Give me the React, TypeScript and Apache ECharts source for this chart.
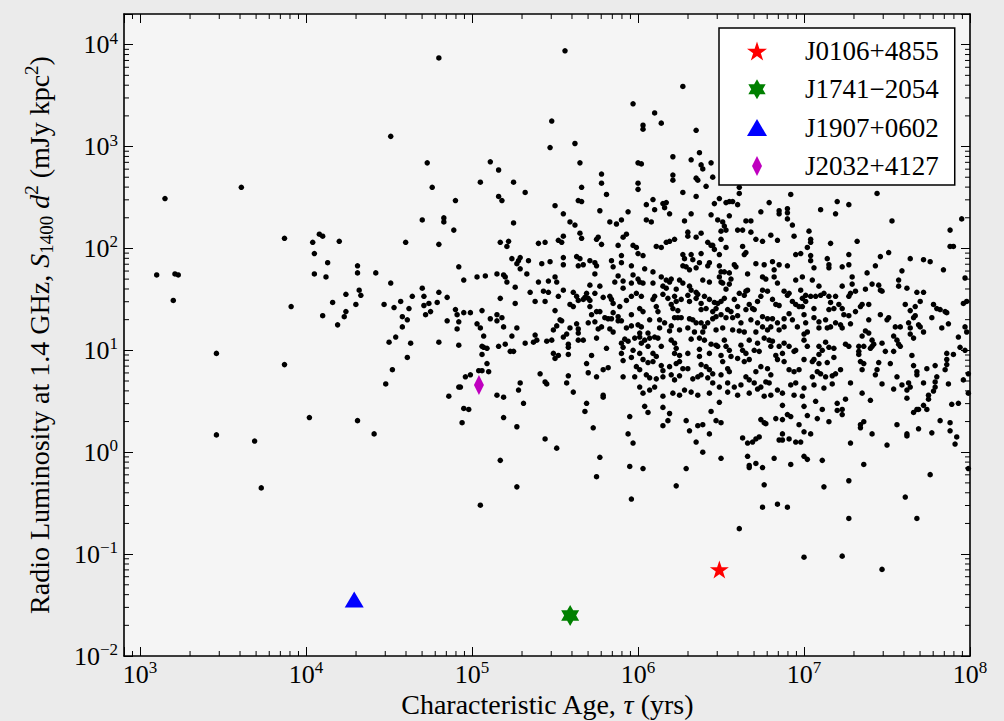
import React, { useEffect, useRef } from 'react';
import * as echarts from 'echarts';

const FONT = '"Liberation Serif", "Times New Roman", serif';

// Axis ranges
const X_MIN = 800;
const X_MAX = 1e8;
const Y_MIN = 0.01;
const Y_MAX = 20000;

// Decades and multipliers for minor ticks (axis furniture)
const X_MINOR_DECADES = [100, 1e3, 1e4, 1e5, 1e6, 1e7];
const Y_MINOR_DECADES = [0.01, 0.1, 1, 10, 100, 1000];
const MINOR_MULTS = [2, 3, 4, 5, 6, 7, 8, 9];

// Pulsar population: [log10 age (yr), log10 L1400 (mJy kpc^2)]
const popYoung: number[][] = [
  [4.80,3.87],[4.51,3.10],[4.73,2.84],[4.76,2.60],[4.90,2.47],[3.61,2.60],[3.15,2.49],[4.70,2.28],[4.83,2.30],[4.83,2.26],
  [4.89,2.18],[3.87,2.10],[4.04,2.06],[4.08,2.14],[4.10,2.12],[4.20,2.07],[4.60,2.06],[4.80,2.04],[4.05,1.95],[4.13,1.86],
  [4.92,1.82],[3.10,1.74],[3.21,1.75],[3.23,1.74],[4.05,1.75],[4.12,1.72],[4.31,1.83],[4.31,1.76],[4.42,1.76],[4.51,1.66],
  [4.32,1.59],[4.33,1.54],[4.24,1.55],[4.70,1.61],[4.71,1.53],[4.80,1.57],[4.85,1.52],[4.64,1.53],[3.20,1.49],[3.91,1.43],
  [4.16,1.47],[4.30,1.45],[4.47,1.45],[4.53,1.42],[4.57,1.48],[4.62,1.41],[4.71,1.44],[4.74,1.46],[4.79,1.47],[4.90,1.40],
  [4.10,1.34],[4.24,1.38],[4.23,1.33],[4.19,1.25],[4.58,1.33],[4.61,1.30],[4.72,1.35],[4.75,1.38],[4.85,1.29],[4.91,1.35],
  [4.92,1.28],[4.91,1.21],[4.58,1.23],[4.54,1.13],
  [3.46,0.97],[3.87,0.86],[4.50,1.08],[4.63,1.07],[4.80,1.08],[4.92,1.05],[4.61,0.93],[4.52,0.81],[4.48,0.67],[4.86,0.55],
  [4.92,0.64],[3.46,0.17],[3.69,0.11],[4.02,0.34],[4.31,0.31],[4.41,0.18],[3.73,-0.35],
];

const popUpperMid: number[][] = [
  [5.56,3.94],[5.97,3.42],[5.48,3.25],[5.47,2.99],[5.62,3.03],[5.65,2.84],[5.11,2.85],[5.16,2.77],[5.05,2.65],[5.25,2.65],
  [5.32,2.55],[5.16,2.51],[5.18,2.47],[5.78,2.73],[5.78,2.64],[5.66,2.60],[5.81,2.53],[5.64,2.47],[5.66,2.46],[5.50,2.42],
  [5.55,2.34],[5.77,2.37],[5.94,2.36],[5.25,2.25],[5.59,2.26],[5.62,2.23],[5.83,2.26],[5.87,2.24],[5.90,2.28],[5.65,2.15],
  [5.66,2.10],[5.55,2.12],[5.52,2.08],[5.54,2.06],[5.76,2.11],[5.75,2.09],[5.78,2.04],[5.91,2.11],[5.93,2.14],[5.88,2.03],
  [5.97,2.03],[5.17,2.06],[5.22,2.07],[5.21,2.02],[5.40,2.05],[5.44,2.06],
  [6.27,3.59],[6.10,3.33],[6.14,3.23],[6.03,3.21],[6.03,3.17],[6.35,3.16],[6.21,2.90],[6.32,2.87],[6.37,2.94],[6.38,2.82],
  [6.39,2.78],[6.44,2.84],[6.00,2.84],[6.02,2.83],[6.21,2.72],[6.21,2.67],[6.35,2.69],[6.36,2.67],[6.45,2.70],[6.00,2.64],
  [6.00,2.58],[6.27,2.55],[6.41,2.61],[6.35,2.51],[6.61,2.60],[6.61,2.54],[6.92,2.53],[7.44,2.54],[6.05,2.43],[6.09,2.48],
  [6.10,2.38],[6.15,2.44],[6.17,2.45],[6.16,2.40],[6.19,2.34],[6.32,2.34],[6.49,2.49],[6.46,2.44],[6.53,2.45],[6.55,2.46],
  [6.57,2.46],[6.60,2.43],[6.44,2.33],[6.48,2.28],[6.51,2.26],[6.55,2.32],[6.52,2.22],[6.53,2.18],[6.65,2.27],[6.68,2.27],
  [6.60,2.18],[6.63,2.18],[6.74,2.36],[6.79,2.45],[6.85,2.37],[6.85,2.34],[6.90,2.39],[6.90,2.35],[6.90,2.29],[6.93,2.23],
  [7.10,2.38],[7.19,2.34],[7.20,2.46],[7.27,2.43],[7.53,2.27],[7.95,2.29],[7.88,2.18],[7.88,2.02],[7.90,2.02],[6.05,2.28],
  [6.08,2.26],[6.28,2.27],[6.30,2.16],[6.35,2.11],[6.38,2.15],[6.42,2.06],[6.44,2.03],[6.50,2.17],[6.50,2.09],[6.68,2.16],
  [6.71,2.09],[6.75,2.07],[6.80,2.13],[6.84,2.08],[6.94,2.12],[7.03,2.17],[7.04,2.09],[7.04,2.06],[7.16,2.05],[7.32,2.07],
  [7.02,2.01],[6.17,2.06],[6.19,2.07],[6.22,2.09],[6.11,2.02],[6.14,2.01],[5.99,2.01],[6.30,2.12],[6.45,2.03],[6.53,2.01],
  [6.63,2.02],
];

const popMidAge: number[][] = [
  [4.95,1.69],[5.03,1.72],[5.08,1.73],[5.15,1.75],[5.19,1.74],[5.20,1.72],[5.21,1.67],[5.24,1.90],[5.27,1.85],[5.28,1.88],
  [5.29,1.91],[5.29,1.80],[5.34,1.88],[5.33,1.75],[5.40,1.67],[5.42,1.85],[5.46,1.68],[5.47,1.87],[5.50,1.72],[5.51,1.67],
  [5.55,1.91],[5.55,1.84],[5.63,1.92],[5.65,1.90],[5.67,1.84],[5.64,1.83],[5.71,1.88],[5.74,1.86],[5.75,1.83],[5.74,1.75],
  [5.71,1.64],[5.77,1.63],[5.84,1.88],[5.85,1.82],[5.90,1.86],[5.90,1.93],[5.96,1.83],[5.88,1.73],[5.86,1.67],[5.91,1.68],
  [5.91,1.61],[5.96,1.53],[5.26,1.62],[5.35,1.57],[5.43,1.58],[5.46,1.57],[5.55,1.59],[5.61,1.57],[5.63,1.53],[5.69,1.56],
  [5.74,1.56],[5.17,1.51],[5.26,1.46],[5.38,1.48],[5.44,1.48],[5.52,1.53],[5.59,1.45],[5.61,1.43],[5.64,1.49],[5.67,1.50],
  [5.68,1.52],[5.70,1.51],[5.71,1.49],[5.71,1.43],[5.79,1.52],[5.83,1.53],[5.84,1.50],[5.85,1.46],[5.89,1.43],[5.93,1.49],
  [5.72,1.35],[5.75,1.38],[5.77,1.38],[5.85,1.37],[5.80,1.32],[5.82,1.31],[5.84,1.31],[5.88,1.33],[5.88,1.29],[5.90,1.29],
  [5.96,1.35],[4.95,1.37],[4.99,1.37],[5.06,1.39],[5.11,1.31],[5.15,1.35],[5.15,1.29],[5.18,1.32],[5.03,1.26],[5.05,1.22],
  [5.19,1.23],[5.27,1.22],[5.50,1.39],[5.53,1.30],[5.54,1.29],[5.51,1.24],[5.49,1.20],[5.59,1.22],[5.63,1.26],[5.64,1.21],
  [5.64,1.17],[5.70,1.27],[5.74,1.28],[5.76,1.21],[5.78,1.23],[5.83,1.21],[5.85,1.18],[5.93,1.22],[5.96,1.24],[5.07,1.14],
  [5.06,1.04],[5.07,1.03],[5.09,1.02],[5.16,1.04],[5.20,1.06],[5.23,0.99],[5.25,0.99],[5.24,1.14],[5.32,1.07],[5.37,1.08],
  [5.38,1.15],[5.39,1.10],[5.45,1.09],[5.48,1.10],[5.55,1.13],[5.57,1.16],[5.58,1.06],[5.58,1.03],[5.64,1.10],[5.67,1.10],
  [5.75,1.12],[5.81,1.02],[5.90,1.07],[5.91,1.03],[5.92,1.11],[5.94,1.09],[5.96,0.93],[5.06,0.96],[5.49,0.97],[5.52,0.95],
  [5.50,0.92],[5.58,0.96],[5.72,0.95],[5.79,0.81],[5.82,0.83],[5.90,0.97],[5.91,0.90],[5.69,0.87],[5.70,0.78],[5.75,0.74],
  [5.91,0.74],[5.09,0.87],[5.06,0.80],[5.04,0.80],[5.10,0.79],[4.99,0.76],[4.96,0.74],[4.93,0.64],[5.41,0.77],[5.44,0.69],
  [5.45,0.67],[5.29,0.68],[5.28,0.61],[5.58,0.75],[5.57,0.68],[5.61,0.59],[5.79,0.56],[5.79,0.54],[5.15,0.56],[5.19,0.54],
  [4.95,0.43],[4.98,0.42],[4.94,0.29],[5.19,0.34],[5.31,0.48],[5.27,0.25],[5.44,0.13],[5.51,0.04],[5.17,-0.08],[5.27,-0.34],
  [5.05,-0.52],[5.69,0.48],[5.68,0.40],[5.73,0.24],[5.77,-0.05],[5.75,-0.24],[5.95,0.35],[5.94,0.18],[5.97,0.09],[5.95,-0.14],
  [5.96,-0.46],
];

const popCore: number[][] = [
  [6.00,1.95],[6.03,1.93],[6.46,1.99],[6.49,1.94],[6.65,1.96],[6.64,1.94],[6.95,1.94],
  [6.27,1.94],[6.28,1.90],[6.32,1.94],[6.33,1.89],[6.38,1.95],[6.43,1.86],[6.27,1.83],[6.29,1.82],[6.31,1.79],[6.35,1.81],
  [6.37,1.86],[6.42,1.83],[6.49,1.83],[6.50,1.77],[6.52,1.77],[6.55,1.76],[6.58,1.84],[6.59,1.82],[6.66,1.75],[6.71,1.85],
  [6.76,1.84],[6.81,1.87],[6.82,1.79],[6.85,1.84],[6.90,1.83],[6.04,1.80],[6.09,1.77],[5.97,1.74],
  [5.96,1.66],[6.00,1.70],[6.01,1.67],[6.03,1.66],[6.09,1.66],[6.14,1.72],[6.17,1.69],[6.19,1.67],[6.15,1.63],[6.17,1.61],
  [6.20,1.70],[6.23,1.60],[6.25,1.69],[6.27,1.66],[6.31,1.63],[6.32,1.59],[6.35,1.57],[6.36,1.55],[6.39,1.69],[6.43,1.67],
  [6.49,1.72],[6.50,1.67],[6.51,1.66],[6.53,1.60],[6.55,1.65],[6.56,1.70],[6.61,1.56],[6.65,1.58],[6.66,1.59],[6.75,1.72],
  [6.77,1.70],[6.75,1.59],[6.82,1.72],[6.84,1.66],[6.88,1.58],[6.91,1.56],[6.95,1.69],[6.99,1.72],[6.98,1.59],
  [5.99,1.56],[6.02,1.53],[6.10,1.53],[6.15,1.55],[6.09,1.50],[6.18,1.51],[6.20,1.45],[6.22,1.53],[6.23,1.48],[6.26,1.50],
  [6.30,1.54],[6.31,1.48],[6.35,1.51],[6.38,1.46],[6.40,1.53],[6.43,1.50],[6.46,1.47],[6.48,1.46],[6.50,1.48],[6.52,1.51],
  [6.58,1.50],[6.60,1.43],[6.64,1.54],[6.67,1.45],[6.69,1.41],[6.70,1.40],[6.72,1.48],[6.74,1.53],[6.78,1.58],[6.81,1.50],
  [6.83,1.45],[6.85,1.44],[6.90,1.54],[6.93,1.48],[6.95,1.45],[6.97,1.43],[6.01,1.41],[6.03,1.38],[6.11,1.43],[6.12,1.38],
  [6.21,1.41],[6.24,1.39],[6.38,1.40],[6.41,1.41],[6.45,1.38],[6.47,1.41],[6.54,1.40],[6.56,1.38],[6.65,1.40],[6.75,1.33],
  [6.78,1.31],[6.81,1.31],[6.88,1.31],[6.91,1.36],
  [6.07,1.30],[6.13,1.30],[6.16,1.27],[6.20,1.24],[6.22,1.32],[6.24,1.32],[6.26,1.32],[6.31,1.31],[6.33,1.30],[6.35,1.27],
  [6.38,1.27],[6.40,1.23],[6.42,1.27],[6.45,1.31],[6.47,1.33],[6.50,1.35],[6.53,1.32],[6.57,1.32],[6.60,1.34],[6.62,1.27],
  [6.64,1.18],[6.68,1.30],[6.72,1.27],[6.75,1.23],[6.78,1.20],[6.80,1.23],[6.84,1.27],[6.88,1.23],[6.93,1.30],[6.96,1.23],
  [6.00,1.25],[6.02,1.23],[6.01,1.17],[6.06,1.17],[6.13,1.22],[6.19,1.19],[6.25,1.20],[6.30,1.22],[6.34,1.18],[6.39,1.18],
  [6.47,1.20],[6.51,1.22],[6.57,1.20],[6.61,1.19],[6.71,1.18],[6.85,1.20],
  [5.98,1.12],[6.01,1.13],[6.04,1.10],[6.07,1.12],[6.10,1.13],[6.12,1.12],[6.02,1.07],[6.06,1.04],[6.14,1.04],[6.20,1.10],
  [6.22,1.07],[6.23,1.02],[6.32,1.11],[6.37,1.12],[6.40,1.10],[6.44,1.06],[6.47,1.05],[6.52,1.10],[6.53,1.04],[6.55,1.00],
  [6.62,1.05],[6.63,1.00],[6.67,1.10],[6.72,1.07],[6.76,1.12],[6.79,1.10],[6.80,1.04],[6.81,1.09],[6.85,1.04],[6.88,1.07],
  [6.91,1.04],[6.95,1.00],[7.00,1.10],[5.97,1.00],[6.01,0.97],[6.09,0.97],[6.22,0.97],[6.25,0.95],[6.30,0.97],[6.37,1.01],
  [6.43,0.97],[6.48,1.04],[6.50,0.95],[6.56,0.94],[6.65,0.97],[6.70,1.00],[6.73,0.99],[6.83,0.95],[6.87,0.97],[6.94,0.99],
  [6.03,0.91],[6.06,0.88],[6.09,0.89],[6.11,0.94],[6.14,0.85],[6.19,0.84],[6.23,0.87],[6.25,0.89],[6.27,0.82],[6.30,0.82],
  [6.37,0.94],[6.38,0.86],[6.41,0.84],[6.43,0.81],[6.45,0.77],[6.51,0.89],[6.54,0.82],[6.55,0.79],[6.60,0.92],[6.64,0.89],
  [6.67,0.91],[6.71,0.79],[6.74,0.84],[6.78,0.82],[6.80,0.76],[6.84,0.91],[6.88,0.89],[6.91,0.81],[6.94,0.79],[6.97,0.81],
  [7.00,0.91],[5.99,0.84],[6.01,0.81],[6.15,0.80],
  [5.98,0.74],[6.05,0.76],[6.07,0.73],[6.11,0.72],[6.15,0.74],[6.20,0.76],[6.22,0.71],[6.25,0.75],[6.33,0.72],[6.36,0.74],
  [6.38,0.76],[6.42,0.73],[6.45,0.68],[6.50,0.76],[6.54,0.68],[6.58,0.64],[6.62,0.66],[6.65,0.74],[6.67,0.71],[6.70,0.68],
  [6.74,0.64],[6.72,0.62],[6.77,0.69],[6.79,0.68],[6.80,0.56],[6.84,0.61],[6.92,0.66],[6.95,0.68],[6.01,0.64],[6.03,0.58],
  [6.07,0.61],[6.10,0.64],[6.15,0.55],[6.21,0.58],[6.25,0.56],[6.28,0.61],[6.32,0.59],[6.36,0.56],[6.43,0.58],[6.49,0.64],
  [6.54,0.59],[6.60,0.56],[6.67,0.58],[6.76,0.55],[6.87,0.58],[6.94,0.56],[6.99,0.55],
  [6.04,0.45],[6.06,0.39],[6.15,0.44],[6.19,0.38],[6.18,0.31],[6.15,0.26],[6.29,0.31],[6.31,0.21],[6.36,0.26],[6.39,0.27],
  [6.44,0.40],[6.49,0.49],[6.47,0.31],[6.50,0.29],[6.43,0.18],[6.35,0.10],[6.39,0.00],[6.50,-0.06],[6.03,-0.16],[6.29,-0.16],
  [6.23,-0.33],[6.63,0.14],[6.66,0.09],[6.69,0.10],[6.71,0.13],[6.73,0.15],[6.66,-0.04],[6.67,-0.13],[6.67,-0.15],[6.71,-0.11],
  [6.75,-0.15],[6.74,0.32],[6.76,0.29],[6.77,0.28],[6.83,0.33],[6.87,0.32],[6.87,0.46],[6.90,0.37],[6.92,0.35],[6.97,0.27],
  [7.00,0.45],[7.00,0.20],[6.87,0.18],[6.85,0.12],[6.87,0.12],[6.91,0.13],[6.95,0.10],[6.98,0.10],[6.82,-0.06],[6.92,-0.12],
  [7.00,-0.04],[6.76,-0.32],[6.75,-0.54],[6.84,-0.51],[6.90,-0.54],[6.61,-0.75],
];

const popOld: number[][] = [
  [6.98,1.95],[7.04,1.93],[7.04,1.88],[7.06,1.81],[7.14,1.90],[7.15,1.84],[7.15,1.81],[7.23,1.82],[7.27,1.94],[7.27,1.84],
  [7.29,1.72],[7.29,1.65],[7.38,1.76],[7.43,1.83],[7.46,1.92],[7.51,1.96],[7.64,1.90],[7.72,1.89],[7.76,1.87],[7.84,1.79],
  [7.59,1.78],[7.57,1.69],[7.57,1.63],[7.62,1.61],[7.97,1.71],[7.98,1.48],[7.96,1.46],[7.05,1.69],[7.09,1.63],[7.12,1.56],
  [7.10,1.54],[7.07,1.53],[7.04,1.53],[7.01,1.54],[6.99,1.51],[7.15,1.53],[7.19,1.53],[7.23,1.63],[7.27,1.53],[7.28,1.56],
  [7.31,1.58],[7.37,1.60],[7.41,1.65],[7.45,1.64],[7.46,1.59],[7.47,1.58],[7.68,1.57],[7.72,1.57],[7.01,1.48],[7.16,1.47],
  [7.21,1.45],[7.23,1.41],[7.18,1.41],[7.15,1.40],[7.06,1.41],[6.99,1.43],[7.00,1.35],[7.06,1.32],[7.09,1.28],[7.13,1.30],
  [7.01,1.27],[7.02,1.18],[7.00,1.16],[7.09,1.22],[7.14,1.22],[7.16,1.23],[7.19,1.27],[7.22,1.25],[7.23,1.22],[7.24,1.35],
  [7.27,1.34],[7.28,1.26],[7.31,1.38],[7.34,1.43],[7.35,1.45],[7.39,1.45],[7.39,1.30],[7.46,1.35],[7.50,1.30],[7.51,1.32],
  [7.55,1.23],[7.58,1.23],[7.61,1.45],[7.64,1.39],[7.67,1.43],[7.70,1.48],[7.66,1.32],[7.67,1.34],[7.63,1.27],[7.64,1.22],
  [7.69,1.25],[7.70,1.23],[7.72,1.18],[7.64,1.16],[7.66,1.12],[7.78,1.45],[7.80,1.41],[7.82,1.40],[7.85,1.38],[7.86,1.37],
  [7.77,1.32],[7.87,1.26],[7.83,1.22],[7.97,1.23],[7.93,1.13],[7.94,1.03],[7.97,1.00],[7.98,1.18],[7.35,1.14],[7.37,1.19],
  [7.39,1.17],[7.41,1.10],[7.42,1.06],[7.41,1.04],[7.40,1.02],[7.47,1.07],[7.54,1.14],[7.56,1.10],[7.57,1.06],[7.58,1.04],
  [7.54,0.99],[7.49,0.99],[7.02,1.04],[7.09,1.04],[7.13,1.08],[7.15,1.03],[7.18,1.02],[7.11,1.00],[7.09,0.96],[7.06,0.91],
  [7.05,0.89],[7.09,0.87],[7.14,0.88],[7.18,0.93],[7.25,1.06],[7.27,1.04],[7.33,1.04],[7.36,1.04],[7.33,0.99],[7.33,0.96],
  [7.34,0.89],[7.36,0.87],[7.35,0.81],[7.45,0.88],[7.44,0.81],[7.43,0.76],[7.52,0.87],[7.65,0.95],[7.66,0.85],[7.68,0.79],
  [7.68,0.76],[7.74,0.82],[7.79,0.85],[7.86,0.97],[7.86,0.91],[7.90,0.96],[7.86,0.86],[7.85,0.81],[7.99,0.77],[7.80,0.74],
  [7.79,0.69],[7.79,0.64],[7.78,0.60],[7.75,0.56],[7.72,0.68],[7.63,0.68],[7.64,0.64],[7.59,0.66],[7.56,0.74],[7.62,0.61],
  [7.47,0.67],[7.54,0.62],[7.35,0.58],[7.28,0.68],[7.22,0.81],[7.19,0.77],[7.17,0.75],[7.13,0.74],[7.10,0.77],[7.08,0.79],
  [7.05,0.74],[7.17,0.67],[7.12,0.63],[7.06,0.66],[7.00,0.63],[7.87,0.67],[7.96,0.71],[7.99,0.58],
  [7.07,0.50],[7.02,0.36],[7.08,0.33],[7.11,0.42],[7.15,0.30],[7.04,0.18],[7.02,-0.07],[7.11,-0.08],[7.12,-0.34],[7.20,0.48],
  [7.20,0.41],[7.23,0.42],[7.23,0.37],[7.25,0.52],[7.40,0.51],[7.34,0.27],[7.34,0.24],[7.36,0.30],[7.41,0.18],[7.28,0.09],
  [7.36,-0.12],[7.27,-0.28],[7.27,-0.65],[7.50,0.07],[7.56,0.27],[7.62,0.53],[7.62,0.18],[7.62,0.16],[7.66,0.39],[7.68,0.42],
  [7.69,0.42],[7.72,0.46],[7.74,0.42],[7.75,0.52],[7.69,0.23],[7.77,0.19],[7.76,-0.22],[7.61,-0.44],[7.68,-0.65],[7.82,0.31],
  [7.88,0.29],[7.88,0.21],[7.92,0.15],[7.91,0.08],[7.89,0.47],[7.93,0.48],[7.99,-0.16],
  [7.00,-1.03],[7.23,-1.02],[7.47,-1.15],
];

// Highlighted pulsars: [age (yr), luminosity (mJy kpc^2)]
const J0106_4855 = [[3.09e6, 0.0708]];
const J1741_2054 = [[3.9e5, 0.025]];
const J1907_0602 = [[1.95e4, 0.0358]];
const J2032_4127 = [[1.1e5, 4.57]];

const NAMES = ['J0106+4855', 'J1741\u22122054', 'J1907+0602', 'J2032+4127'];

const STAR5 = 'path://M10,0 L12.25,6.91 L19.51,6.91 L13.63,11.18 L15.88,18.09 L10,13.82 L4.12,18.09 L6.37,11.18 L0.49,6.91 L7.75,6.91 Z';
const STAR6 = 'path://M10,0 L12.89,5 L18.66,5 L15.77,10 L18.66,15 L12.89,15 L10,20 L7.11,15 L1.34,15 L4.23,10 L1.34,5 L7.11,5 Z';
const TRI = 'path://M10,0 L20,17 L0,17 Z';
const DIAM = 'path://M5,0 L10,10 L5,20 L0,10 Z';

const toLin = (arr: number[][]) => arr.map(([a, b]) => [Math.pow(10, a), Math.pow(10, b)]);

const powLabel = (v: number) => {
  const e = Math.log10(v);
  const r = Math.round(e);
  if (Math.abs(e - r) > 1e-6) return '';
  const s = r < 0 ? '\u2212' + String(-r) : String(r);
  return '{b|10}{s|' + s + '}';
};

const labelRich = {
  b: { fontFamily: FONT, fontSize: 26, lineHeight: 30, color: '#000' },
  s: { fontFamily: FONT, fontSize: 17, lineHeight: 18, verticalAlign: 'top', color: '#000' },
};

export default function App() {
  const ref = useRef<HTMLDivElement>(null);

  useEffect(() => {
    if (!ref.current) return;
    const chart = echarts.init(ref.current, undefined, { renderer: 'svg' });

    const minorX: number[][] = [];
    X_MINOR_DECADES.forEach((d) => MINOR_MULTS.forEach((m) => {
      const v = d * m;
      if (v > X_MIN && v < X_MAX) minorX.push([v, 1, 0]);
    }));
    const minorY: number[][] = [];
    Y_MINOR_DECADES.forEach((d) => MINOR_MULTS.forEach((m) => {
      const v = d * m;
      if (v > Y_MIN && v < Y_MAX) minorY.push([1e5, v, 1]);
    }));

    const population = [
      ...toLin(popYoung), ...toLin(popUpperMid), ...toLin(popMidAge), ...toLin(popCore), ...toLin(popOld),
    ];

    const axisLineStyle = { color: '#000', width: 1.6 };
    const tickStyle = { color: '#000', width: 1 };

    const option: any = {
      animation: false,
      backgroundColor: '#ebebeb',
      grid: {
        left: 124, width: 846, top: 14, height: 642,
        outerBoundsMode: 'none', containLabel: false,
        show: true, backgroundColor: '#f5f5f5', borderWidth: 0,
      },
      xAxis: [
        {
          type: 'log', logBase: 10, min: X_MIN, max: X_MAX, position: 'bottom',
          axisLine: { show: true, lineStyle: axisLineStyle },
          axisTick: { show: true, inside: true, length: 9, lineStyle: tickStyle },
          splitLine: { show: false },
          axisLabel: { formatter: powLabel, margin: 3, rich: labelRich, hideOverlap: false },
          name: '{n|Characteristic Age, }{i|\u03c4}{n| (yrs)}',
          nameLocation: 'middle', nameGap: 32.7, nameMoveOverlap: false,
          nameTextStyle: {
            fontFamily: FONT, fontSize: 28, color: '#000',
            rich: {
              n: { fontFamily: FONT, fontSize: 28, lineHeight: 32, color: '#000' },
              i: { fontFamily: FONT, fontSize: 28, lineHeight: 32, fontStyle: 'italic', color: '#000' },
            },
          },
        },
        {
          type: 'log', logBase: 10, min: X_MIN, max: X_MAX, position: 'top',
          axisLine: { show: true, lineStyle: axisLineStyle },
          axisTick: { show: true, inside: true, length: 9, lineStyle: tickStyle },
          splitLine: { show: false },
          axisLabel: { show: false },
        },
      ],
      yAxis: [
        {
          type: 'log', logBase: 10, min: Y_MIN, max: Y_MAX, position: 'left',
          axisLine: { show: true, lineStyle: axisLineStyle },
          axisTick: { show: true, inside: true, length: 9, lineStyle: tickStyle },
          splitLine: { show: false },
          axisLabel: { formatter: powLabel, margin: 6, rich: labelRich, hideOverlap: false },
          name: '{n|Radio Luminosity at 1.4 GHz, }{i|S}{sub|1400}{n| }{i|d}{sup|2}{n| (mJy kpc}{sup|2}{n|)}',
          nameLocation: 'middle', nameGap: 68, nameMoveOverlap: false,
          nameTextStyle: {
            fontFamily: FONT, fontSize: 28, color: '#000',
            rich: {
              n: { fontFamily: FONT, fontSize: 28, lineHeight: 34, color: '#000' },
              i: { fontFamily: FONT, fontSize: 28, lineHeight: 34, fontStyle: 'italic', color: '#000' },
              sub: { fontFamily: FONT, fontSize: 19, lineHeight: 18, verticalAlign: 'bottom', color: '#000' },
              sup: { fontFamily: FONT, fontSize: 19, lineHeight: 18, verticalAlign: 'top', color: '#000' },
            },
          },
        },
        {
          type: 'log', logBase: 10, min: Y_MIN, max: Y_MAX, position: 'right',
          axisLine: { show: true, lineStyle: axisLineStyle },
          axisTick: { show: true, inside: true, length: 9, lineStyle: tickStyle },
          splitLine: { show: false },
          axisLabel: { show: false },
        },
      ],
      legend: {
        data: [
          { name: NAMES[0], icon: STAR5 },
          { name: NAMES[1], icon: STAR6 },
          { name: NAMES[2], icon: TRI },
          { name: NAMES[3], icon: DIAM },
        ],
        orient: 'vertical',
        left: 719, top: 28,
        padding: [8, 16, 4, 28],
        itemWidth: 20, itemHeight: 20, itemGap: 8.3,
        backgroundColor: '#ffffff', borderColor: '#000', borderWidth: 1.5, borderRadius: 0,
        selectedMode: false,
        itemStyle: { opacity: 1 },
        textStyle: { fontFamily: FONT, fontSize: 27, lineHeight: 30, color: '#000', padding: [0, 0, 0, 33] },
      },
      series: [
        {
          type: 'custom', name: 'minorTicks', silent: true, clip: false, z: 4,
          data: [...minorX, ...minorY],
          renderItem: (params: any, api: any) => {
            const cs = params.coordSys;
            const kind = api.value(2);
            const p = api.coord([api.value(0), api.value(1)]);
            const st = { stroke: '#000', lineWidth: 1 };
            if (kind === 0) {
              const x = p[0];
              return {
                type: 'group',
                children: [
                  { type: 'line', shape: { x1: x, y1: cs.y + cs.height, x2: x, y2: cs.y + cs.height - 5 }, style: st },
                  { type: 'line', shape: { x1: x, y1: cs.y, x2: x, y2: cs.y + 5 }, style: st },
                ],
              };
            }
            const y = p[1];
            return {
              type: 'group',
              children: [
                { type: 'line', shape: { x1: cs.x, y1: y, x2: cs.x + 5, y2: y }, style: st },
                { type: 'line', shape: { x1: cs.x + cs.width, y1: y, x2: cs.x + cs.width - 5, y2: y }, style: st },
              ],
            };
          },
        },
        {
          type: 'scatter', name: 'population', data: population,
          symbol: 'circle', symbolSize: 5.5, itemStyle: { color: '#000', opacity: 1 }, z: 2, silent: true,
        },
        {
          type: 'scatter', name: NAMES[0], data: J0106_4855, symbol: STAR5, symbolSize: [19, 18],
          itemStyle: { color: '#ff0000', opacity: 1 }, z: 5,
        },
        {
          type: 'scatter', name: NAMES[1], data: J1741_2054, symbol: STAR6, symbolSize: [18, 21],
          itemStyle: { color: '#008000', opacity: 1 }, z: 5,
        },
        {
          type: 'scatter', name: NAMES[2], data: J1907_0602, symbol: TRI, symbolSize: [19, 16],
          itemStyle: { color: '#0000ff', opacity: 1 }, z: 5,
        },
        {
          type: 'scatter', name: NAMES[3], data: J2032_4127, symbol: DIAM, symbolSize: [10, 20],
          itemStyle: { color: '#bf00bf', opacity: 1 }, z: 5,
        },
      ],
    };

    chart.setOption(option);
    return () => chart.dispose();
  }, []);

  return (
    <div
      ref={ref}
      style={{ position: 'fixed', left: 0, top: 0, width: 1004, height: 721 }}
    />
  );
}
